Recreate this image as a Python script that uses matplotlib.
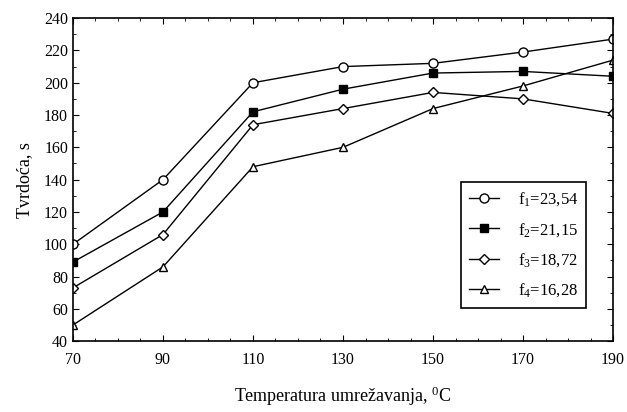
import numpy as np
import matplotlib.pyplot as plt
from matplotlib.ticker import MultipleLocator

plt.rcParams.update({'font.family': 'serif'})
plt.rcParams.update({'font.serif': ['Liberation Serif', 'DejaVu Serif']})
plt.rcParams.update({'mathtext.fontset': 'custom', 'mathtext.rm': 'Liberation Serif',
                     'mathtext.it': 'Liberation Serif'})

# Data
temp = [70, 90, 110, 130, 150, 170, 190]
f1 = [100, 140, 200, 210, 212, 219, 227]
f2 = [89, 120, 182, 196, 206, 207, 204]
f3 = [73, 106, 174, 184, 194, 190, 181]
f4 = [50, 86, 148, 160, 184, 198, 214]
labels = [r'$\mathregular{f_1}$=23,54', r'$\mathregular{f_2}$=21,15',
          r'$\mathregular{f_3}$=18,72', r'$\mathregular{f_4}$=16,28']

fig = plt.figure(figsize=(6.27, 4.12), dpi=100)
ax = fig.add_axes([0.1164, 0.172, 0.8613, 0.784])

ax.plot(temp, f1, 'k-', marker='o', mfc='white', mec='black', ms=6.5, lw=1, label=labels[0])
ax.plot(temp, f2, 'k-', marker='s', mfc='black', mec='black', ms=5.5, lw=1, label=labels[1])
ax.plot(temp, f3, 'k-', marker='D', mfc='white', mec='black', ms=5, lw=1, label=labels[2])
ax.plot(temp, f4, 'k-', marker='^', mfc='white', mec='black', ms=6, lw=1, label=labels[3])

ax.set_xlim(70, 190)
ax.set_ylim(40, 240)
ax.set_xticks(temp)
ax.xaxis.set_minor_locator(MultipleLocator(5))
ax.yaxis.set_major_locator(MultipleLocator(20))
ax.yaxis.set_minor_locator(MultipleLocator(10))
ax.tick_params(which='both', direction='in', top=True, right=True, labelsize=11.5)
ax.tick_params(which='major', length=4)
ax.tick_params(which='minor', length=2)
ax.tick_params(axis='x', pad=8)
for s in ax.spines.values():
    s.set_linewidth(1.2)

ax.set_xlabel(r'Temperatura umrežavanja, $\mathregular{^0}$C', fontsize=13, labelpad=12)
ax.set_ylabel('Tvrdoća, s', fontsize=13, labelpad=8)

leg = ax.legend(loc='lower right', bbox_to_anchor=(0.966, 0.078), fontsize=12,
                frameon=True, fancybox=False, edgecolor='black', framealpha=1,
                handlelength=1.8, handletextpad=1.1, borderpad=0.5, labelspacing=0.75)
leg.get_frame().set_linewidth(1.2)

plt.savefig('out.png', dpi=100)
